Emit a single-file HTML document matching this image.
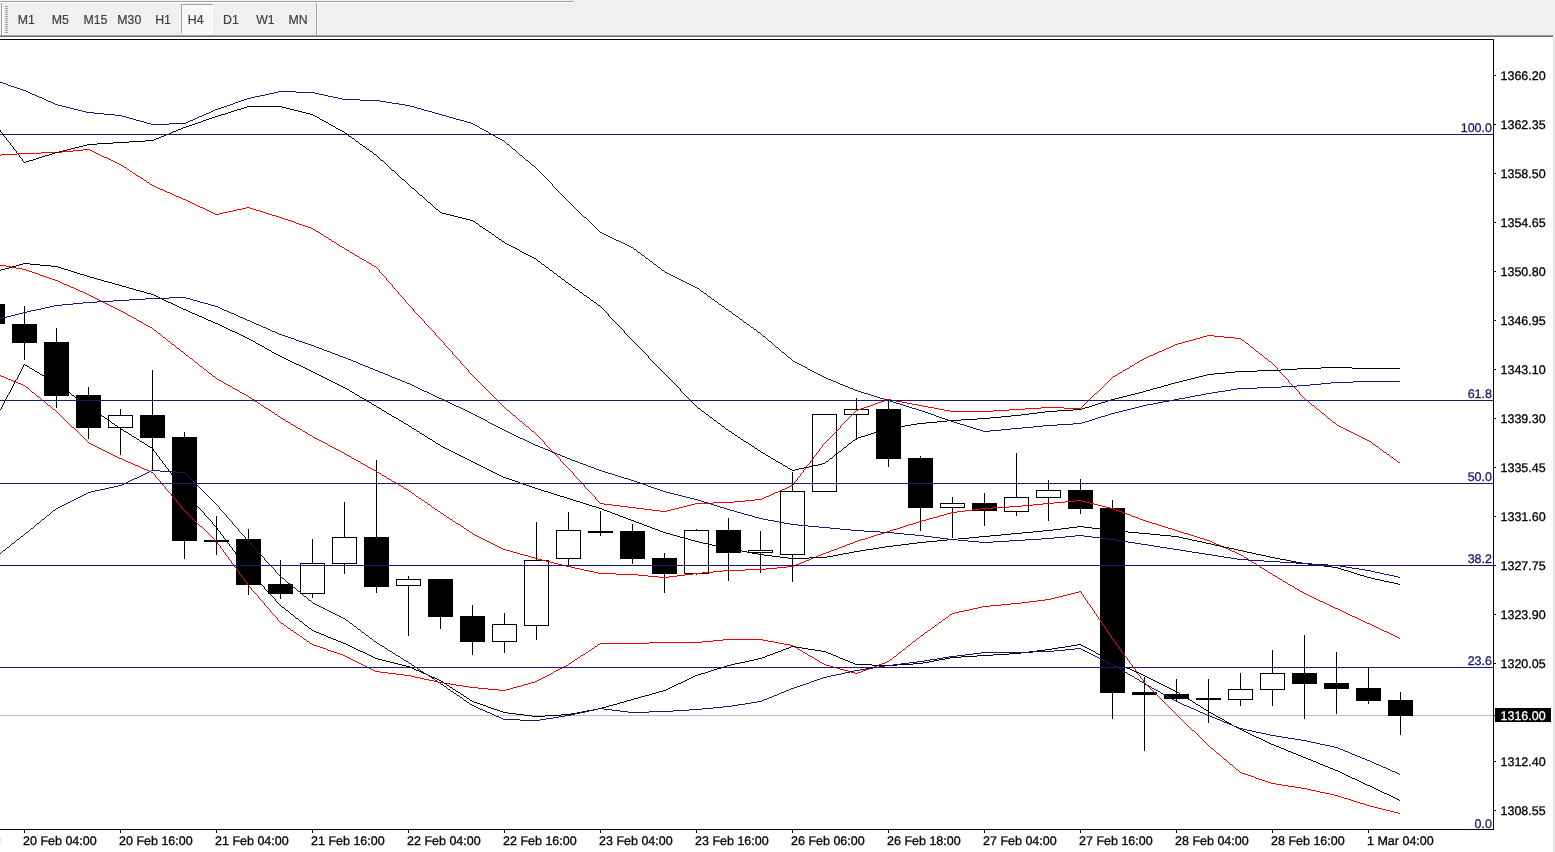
<!DOCTYPE html>
<html><head><meta charset="utf-8"><title>Chart</title>
<style>
html,body{margin:0;padding:0;background:#fff;}
body{width:1555px;height:852px;position:relative;overflow:hidden;font-family:"Liberation Sans",sans-serif;}
#tb{position:absolute;left:0;top:0;width:1555px;height:35px;background:#f0f0f0;}
#tb .l1{position:absolute;left:0;top:1px;width:574px;height:1px;background:#a0a0a0;}
#tb .l2{position:absolute;left:0;top:2px;width:575px;height:1px;background:#fff;}
#tb .v1{position:absolute;left:1px;top:3px;width:1px;height:32px;background:#a0a0a0;}
#tb .v2{position:absolute;left:2px;top:3px;width:1px;height:32px;background:#fff;}
#tb .sep{position:absolute;left:316px;top:3px;width:1px;height:32px;background:#a0a0a0;}
#tb .sep2{position:absolute;left:317px;top:3px;width:1px;height:32px;background:#fff;}
#tb i{position:absolute;left:5px;width:3px;height:1px;background:#a0a0a0;}
#tb span{position:absolute;top:13px;font-size:12.3px;line-height:15px;color:#404040;white-space:nowrap;-webkit-text-stroke:0.2px #404040}
#tb .btn{position:absolute;left:181px;top:4px;width:30px;height:28px;background:#f8f8f8;border-left:1px solid #a0a0a0;border-top:1px solid #a0a0a0;border-right:1px solid #fff;border-bottom:1px solid #fff;}
.b1{position:absolute;left:0;top:35px;width:1553px;height:1px;background:#a0a0a0;}
.b2{position:absolute;left:0;top:36px;width:1553px;height:1px;background:#696969;}
.re{position:absolute;left:1553px;top:35px;width:1px;height:817px;background:#e3e3e3;}
.re2{position:absolute;left:1554px;top:35px;width:1px;height:817px;background:#f0f0f0;}
</style></head><body>
<div id="tb"><div class="l1"></div><div class="l2"></div><div class="v1"></div><div class="v2"></div><i style="top:6px"></i><i style="top:8px"></i><i style="top:10px"></i><i style="top:12px"></i><i style="top:14px"></i><i style="top:16px"></i><i style="top:18px"></i><i style="top:20px"></i><i style="top:22px"></i><i style="top:24px"></i><i style="top:26px"></i><i style="top:28px"></i><i style="top:30px"></i><i style="top:32px"></i><div class="btn"></div><span style="left:17.8px">M1</span><span style="left:51.7px">M5</span><span style="left:83.4px">M15</span><span style="left:117.3px">M30</span><span style="left:155.2px">H1</span><span style="left:187.8px">H4</span><span style="left:223.0px">D1</span><span style="left:256.2px">W1</span><span style="left:288.5px">MN</span><div class="sep"></div><div class="sep2"></div></div>
<div class="b1"></div><div class="b2"></div><div class="re"></div><div class="re2"></div>
<svg width="1555" height="852" viewBox="0 0 1555 852" style="position:absolute;left:0;top:0" shape-rendering="crispEdges">
<defs><clipPath id="cp"><rect x="0" y="40" width="1493" height="789"/></clipPath></defs>
<g clip-path="url(#cp)">
<rect x="0" y="715" width="1493" height="1" fill="#c0c0c0"/>
<rect x="-8" y="304" width="1" height="20" fill="#000"/>
<rect x="-20" y="304" width="25" height="20" fill="#000"/>
<rect x="24" y="306" width="1" height="54" fill="#000"/>
<rect x="12" y="324" width="25" height="19" fill="#000"/>
<rect x="56" y="328" width="1" height="80" fill="#000"/>
<rect x="44" y="342" width="25" height="54" fill="#000"/>
<rect x="88" y="387" width="1" height="52" fill="#000"/>
<rect x="76" y="395" width="25" height="33" fill="#000"/>
<rect x="120" y="409" width="1" height="46" fill="#000"/>
<rect x="108.5" y="415.5" width="24" height="12" fill="#fff" stroke="#000" stroke-width="1"/>
<rect x="152" y="370" width="1" height="101" fill="#000"/>
<rect x="140" y="415" width="25" height="23" fill="#000"/>
<rect x="184" y="432" width="1" height="127" fill="#000"/>
<rect x="172" y="437" width="25" height="104" fill="#000"/>
<rect x="216" y="516" width="1" height="39" fill="#000"/>
<rect x="204" y="540" width="25" height="2" fill="#000"/>
<rect x="248" y="529" width="1" height="66" fill="#000"/>
<rect x="236" y="539" width="25" height="46" fill="#000"/>
<rect x="280" y="560" width="1" height="39" fill="#000"/>
<rect x="268" y="584" width="25" height="10" fill="#000"/>
<rect x="312" y="539" width="1" height="59" fill="#000"/>
<rect x="300.5" y="563.5" width="24" height="30" fill="#fff" stroke="#000" stroke-width="1"/>
<rect x="344" y="502" width="1" height="72" fill="#000"/>
<rect x="332.5" y="537.5" width="24" height="26" fill="#fff" stroke="#000" stroke-width="1"/>
<rect x="376" y="460" width="1" height="133" fill="#000"/>
<rect x="364" y="537" width="25" height="50" fill="#000"/>
<rect x="408" y="576" width="1" height="60" fill="#000"/>
<rect x="396.5" y="579.5" width="24" height="6" fill="#fff" stroke="#000" stroke-width="1"/>
<rect x="440" y="579" width="1" height="50" fill="#000"/>
<rect x="428" y="579" width="25" height="38" fill="#000"/>
<rect x="472" y="605" width="1" height="50" fill="#000"/>
<rect x="460" y="616" width="25" height="26" fill="#000"/>
<rect x="504" y="613" width="1" height="40" fill="#000"/>
<rect x="492.5" y="624.5" width="24" height="17" fill="#fff" stroke="#000" stroke-width="1"/>
<rect x="536" y="522" width="1" height="118" fill="#000"/>
<rect x="524.5" y="560.5" width="24" height="65" fill="#fff" stroke="#000" stroke-width="1"/>
<rect x="568" y="512" width="1" height="54" fill="#000"/>
<rect x="556.5" y="530.5" width="24" height="28" fill="#fff" stroke="#000" stroke-width="1"/>
<rect x="600" y="511" width="1" height="25" fill="#000"/>
<rect x="588" y="531" width="25" height="2" fill="#000"/>
<rect x="632" y="524" width="1" height="40" fill="#000"/>
<rect x="620" y="531" width="25" height="28" fill="#000"/>
<rect x="664" y="553" width="1" height="40" fill="#000"/>
<rect x="652" y="558" width="25" height="16" fill="#000"/>
<rect x="696" y="529" width="1" height="46" fill="#000"/>
<rect x="684.5" y="530.5" width="24" height="43" fill="#fff" stroke="#000" stroke-width="1"/>
<rect x="728" y="518" width="1" height="63" fill="#000"/>
<rect x="716" y="530" width="25" height="23" fill="#000"/>
<rect x="760" y="531" width="1" height="42" fill="#000"/>
<rect x="748.5" y="550.5" width="24" height="2" fill="#fff" stroke="#000" stroke-width="1"/>
<rect x="792" y="472" width="1" height="110" fill="#000"/>
<rect x="780.5" y="491.5" width="24" height="63" fill="#fff" stroke="#000" stroke-width="1"/>
<rect x="824" y="414" width="1" height="78" fill="#000"/>
<rect x="812.5" y="414.5" width="24" height="77" fill="#fff" stroke="#000" stroke-width="1"/>
<rect x="856" y="398" width="1" height="42" fill="#000"/>
<rect x="844.5" y="409.5" width="24" height="5" fill="#fff" stroke="#000" stroke-width="1"/>
<rect x="888" y="399" width="1" height="68" fill="#000"/>
<rect x="876" y="409" width="25" height="50" fill="#000"/>
<rect x="920" y="456" width="1" height="75" fill="#000"/>
<rect x="908" y="458" width="25" height="50" fill="#000"/>
<rect x="952" y="497" width="1" height="41" fill="#000"/>
<rect x="940.5" y="503.5" width="24" height="4" fill="#fff" stroke="#000" stroke-width="1"/>
<rect x="984" y="493" width="1" height="33" fill="#000"/>
<rect x="972" y="503" width="25" height="8" fill="#000"/>
<rect x="1016" y="453" width="1" height="63" fill="#000"/>
<rect x="1004.5" y="497.5" width="24" height="14" fill="#fff" stroke="#000" stroke-width="1"/>
<rect x="1048" y="480" width="1" height="41" fill="#000"/>
<rect x="1036.5" y="490.5" width="24" height="7" fill="#fff" stroke="#000" stroke-width="1"/>
<rect x="1080" y="479" width="1" height="35" fill="#000"/>
<rect x="1068" y="490" width="25" height="19" fill="#000"/>
<rect x="1112" y="500" width="1" height="219" fill="#000"/>
<rect x="1100" y="508" width="25" height="185" fill="#000"/>
<rect x="1144" y="677" width="1" height="74" fill="#000"/>
<rect x="1132" y="692" width="25" height="3" fill="#000"/>
<rect x="1176" y="679" width="1" height="23" fill="#000"/>
<rect x="1164" y="694" width="25" height="5" fill="#000"/>
<rect x="1208" y="679" width="1" height="44" fill="#000"/>
<rect x="1196" y="698" width="25" height="2" fill="#000"/>
<rect x="1240" y="673" width="1" height="33" fill="#000"/>
<rect x="1228.5" y="689.5" width="24" height="10" fill="#fff" stroke="#000" stroke-width="1"/>
<rect x="1272" y="650" width="1" height="56" fill="#000"/>
<rect x="1260.5" y="673.5" width="24" height="16" fill="#fff" stroke="#000" stroke-width="1"/>
<rect x="1304" y="635" width="1" height="84" fill="#000"/>
<rect x="1292" y="673" width="25" height="11" fill="#000"/>
<rect x="1336" y="652" width="1" height="62" fill="#000"/>
<rect x="1324" y="683" width="25" height="6" fill="#000"/>
<rect x="1368" y="667" width="1" height="37" fill="#000"/>
<rect x="1356" y="688" width="25" height="13" fill="#000"/>
<rect x="1400" y="692" width="1" height="43" fill="#000"/>
<rect x="1388" y="700" width="25" height="16" fill="#000"/>
<path d="M0 155h1m0-1h16m0-1h24m0-1h21m0-1h11m0-1h10m0-1h7m0 1h2m0 1h2m0 1h2m0 1h2m0 1h2m0 1h2m0 1h2m0 1h3m0 1h2m0 1h2m0 1h2m0 1h2m0 1h2m0 1h2m0 1h2m0 1h2m0 1h1m0 1h2m0 1h1m0 1h2m0 1h1m0 1h2m0 1h1m0 1h2m0 1h1m0 1h2m0 1h2m0 1h1m0 1h2m0 1h1m0 1h2m0 1h1m0 1h2m0 1h1m0 1h2m0 1h2m0 1h2m0 1h2m0 1h2m0 1h3m0 1h2m0 1h2m0 1h3m0 1h2m0 1h2m0 1h2m0 1h3m0 1h2m0 1h2m0 1h3m0 1h2m0 1h2m0 1h2m0 1h2m0 1h2m0 1h2m0 1h2m0 1h3m0 1h2m0 1h2m0 1h2m0 1h2m0 1h2m0 1h2m0 1h4m0-1h4m0-1h5m0-1h5m0-1h4m0-1h5m0-1h4m0-1h4m0 1h3m0 1h3m0 1h4m0 1h3m0 1h3m0 1h3m0 1h3m0 1h4m0 1h3m0 1h3m0 1h3m0 1h3m0 1h3m0 1h3m0 1h2m0 1h3m0 1h3m0 1h3m0 1h3m0 1h3m0 1h2m0 1h2m0 1h1m0 1h2m0 1h2m0 1h1m0 1h2m0 1h1m0 1h2m0 1h2m0 1h1m0 1h2m0 1h1m0 1h2m0 1h2m0 1h1m0 1h2m0 1h1m0 1h2m0 1h2m0 1h1m0 1h2m0 1h2m0 1h1m0 1h2m0 1h2m0 1h1m0 1h2m0 1h2m0 1h1m0 1h2m0 1h2m0 1h2m0 1h1m0 1h2m0 1h2m0 1h1m0 1h2m0 1h2m0 1h1m0 1h1m0 1h1m0 1h1m-1 1h1m0 1h1m0 1h1m0 1h1m0 1h1m0 1h1m0 1h1m0 1h1m-1 1h1m0 1h1m0 1h1m0 1h1m0 1h1m0 1h1m0 1h1m-1 1h1m0 1h1m0 1h1m0 1h1m0 1h1m0 1h1m0 1h1m-1 1h1m0 1h1m0 1h1m0 1h1m0 1h1m0 1h1m0 1h1m0 1h1m-1 1h1m0 1h1m0 1h1m0 1h1m0 1h1m0 1h1m0 1h1m0 1h1m0 1h1m-1 1h1m0 1h1m0 1h1m0 1h1m0 1h1m0 1h1m0 1h1m0 1h1m0 1h1m0 1h1m0 1h1m0 1h1m-1 1h1m0 1h1m0 1h1m0 1h1m0 1h1m0 1h1m0 1h1m0 1h1m0 1h1m0 1h1m0 1h1m0 1h1m-1 1h1m0 1h1m0 1h1m0 1h1m0 1h1m0 1h1m0 1h1m0 1h1m0 1h1m0 1h1m-1 1h1m0 1h1m0 1h1m0 1h1m0 1h1m0 1h1m0 1h1m0 1h1m0 1h1m-1 1h1m0 1h1m0 1h1m0 1h1m0 1h1m0 1h1m0 1h1m0 1h1m0 1h1m-1 1h1m0 1h1m0 1h1m0 1h1m0 1h1m0 1h1m0 1h1m0 1h1m0 1h1m-1 1h1m0 1h1m0 1h1m0 1h1m0 1h1m0 1h1m0 1h1m0 1h1m0 1h1m0 1h1m0 1h1m0 1h1m0 1h1m0 1h1m0 1h1m0 1h1m0 1h1m0 1h1m0 1h1m0 1h1m0 1h1m0 1h1m0 1h1m0 1h1m0 1h1m0 1h1m0 1h1m0 1h1m0 1h1m0 1h1m0 1h1m0 1h1m0 1h1m0 1h1m0 1h1m0 1h1m0 1h1m0 1h1m0 1h1m0 1h2m0 1h1m0 1h1m0 1h1m0 1h1m0 1h2m0 1h1m0 1h1m0 1h1m0 1h1m0 1h1m0 1h2m0 1h1m0 1h1m0 1h1m0 1h1m0 1h2m0 1h1m0 1h1m0 1h1m0 1h1m0 1h2m0 1h1m0 1h1m0 1h1m0 1h1m0 1h1m0 1h1m0 1h1m0 1h1m0 1h1m0 1h1m0 1h1m-1 1h1m0 1h1m0 1h1m0 1h1m0 1h1m0 1h1m0 1h1m0 1h1m0 1h1m0 1h1m0 1h1m0 1h1m0 1h1m0 1h1m0 1h1m0 1h1m0 1h1m-1 1h1m0 1h1m0 1h1m0 1h1m0 1h1m0 1h1m0 1h1m0 1h1m0 1h1m0 1h1m0 1h1m0 1h1m0 1h1m0 1h1m-1 1h1m0 1h1m0 1h1m0 1h1m0 1h1m0 1h1m0 1h1m0 1h1m0 1h1m0 1h1m0 1h1m0 1h1m-1 1h1m0 1h1m0 1h1m0 1h1m0 1h1m0 1h1m0 1h1m0 1h1m0 1h1m0 1h1m0 1h1m0 1h1m-1 1h1m0 1h1m0 1h1m0 1h1m0 1h1m0 1h4m0 1h8m0 1h8m0 1h8m0 1h8m0 1h8m0 1h8m0 1h8m0 1h7m0-1h4m0-1h4m0-1h4m0-1h4m0-1h4m0-1h4m0-1h4m0-1h18m0-1h21m0-1h11m0-1h10m0-1h7m0-1h2m0-1h2m0-1h3m0-1h2m0-1h2m0-1h2m0-1h3m0-1h2m0-1h2m0-1h3m0-1h2m0-1h2m0-1h2m0-1h2m0-1h1m0-1h1m-1-1h1m0-1h1m0-1h1m0-1h1m-1-1h1m0-1h1m0-1h1m0-1h1m-1-1h1m0-1h1m0-1h1m0-1h1m-1-1h1m0-1h1m0-1h1m0-1h1m-1-1h1m0-1h1m0-1h1m0-1h1m0-1h1m-1-1h1m0-1h1m0-1h1m0-1h1m-1-1h1m0-1h1m0-1h1m0-1h1m-1-1h1m0-1h1m0-1h1m0-1h1m-1-1h1m0-1h1m0-1h1m0-1h1m-1-1h1m0-1h1m0-1h1m0-1h1m0-1h1m0-1h1m0-1h1m0-1h1m0-1h1m0-1h1m0-1h1m0-1h1m0-1h1m0-1h1m0-1h1m0-1h1m0-1h1m0-1h1m0-1h1m-1-1h1m0-1h1m0-1h1m0-1h1m0-1h1m0-1h1m0-1h1m0-1h1m0-1h1m0-1h1m0-1h1m0-1h1m0-1h1m0-1h1m0-1h1m0-1h1m0-1h2m0-1h3m0-1h3m0-1h3m0-1h3m0-1h3m0-1h2m0-1h3m0-1h3m0-1h3m0-1h3m0-1h4m0 1h5m0 1h6m0 1h5m0 1h5m0 1h6m0 1h5m0 1h5m0 1h6m0 1h5m0 1h5m0 1h6m0 1h43m0-1h16m0-1h16m0-1h16m0-1h23m0 1h17m0-1h1m0-1h1m0-1h1m0-1h1m0-1h1m0-1h1m0-1h1m0-1h1m0-1h1m0-1h1m0-1h1m0-1h1m0-1h1m0-1h1m0-1h2m0-1h1m0-1h1m0-1h1m0-1h1m0-1h1m0-1h1m0-1h1m0-1h1m0-1h1m0-1h1m0-1h1m0-1h1m0-1h1m0-1h1m0-1h1m0-1h1m0-1h2m0-1h2m0-1h1m0-1h2m0-1h2m0-1h1m0-1h2m0-1h2m0-1h2m0-1h1m0-1h2m0-1h2m0-1h1m0-1h2m0-1h2m0-1h1m0-1h2m0-1h2m0-1h2m0-1h2m0-1h2m0-1h3m0-1h2m0-1h2m0-1h2m0-1h3m0-1h2m0-1h2m0-1h3m0-1h2m0-1h2m0-1h2m0-1h3m0-1h4m0-1h3m0-1h4m0-1h4m0-1h3m0-1h4m0-1h3m0-1h4m0-1h7m0 1h10m0 1h11m0 1h6m0 1h1m0 1h2m0 1h1m0 1h1m0 1h2m0 1h1m0 1h1m0 1h1m0 1h2m0 1h1m0 1h1m0 1h1m0 1h2m0 1h1m0 1h1m0 1h2m0 1h1m0 1h1m0 1h1m0 1h2m0 1h1m0 1h1m0 1h2m0 1h1m0 1h1m0 1h1m0 1h1m0 1h1m0 1h1m0 1h1m-1 1h1m0 1h1m0 1h1m0 1h1m0 1h1m0 1h1m0 1h1m0 1h1m0 1h1m0 1h1m0 1h1m0 1h1m-1 1h1m0 1h1m0 1h1m0 1h1m0 1h1m0 1h1m0 1h1m0 1h1m0 1h1m0 1h1m0 1h1m0 1h1m-1 1h1m0 1h1m0 1h1m0 1h1m0 1h1m0 1h1m0 1h1m0 1h2m0 1h1m0 1h1m0 1h1m0 1h1m0 1h2m0 1h1m0 1h1m0 1h1m0 1h2m0 1h1m0 1h1m0 1h1m0 1h2m0 1h1m0 1h1m0 1h1m0 1h1m0 1h2m0 1h1m0 1h1m0 1h1m0 1h2m0 1h1m0 1h1m0 1h2m0 1h2m0 1h2m0 1h2m0 1h2m0 1h2m0 1h2m0 1h2m0 1h2m0 1h2m0 1h2m0 1h2m0 1h2m0 1h2m0 1h2m0 1h2m0 1h2m0 1h1m0 1h1m0 1h2m0 1h1m0 1h2m0 1h1m0 1h1m0 1h2m0 1h1m0 1h1m0 1h2m0 1h1m0 1h2m0 1h1m0 1h1m0 1h2m0 1h1m0 1h2m0 1h1m0 1h1m0 1h2" fill="none" stroke="#f00" stroke-width="1" transform="translate(0,.5)"/>
<path d="M0 265h6m0 1h5m0 1h5m0 1h6m0 1h4m0 1h3m0 1h3m0 1h3m0 1h3m0 1h2m0 1h3m0 1h3m0 1h3m0 1h3m0 1h3m0 1h3m0 1h2m0 1h2m0 1h2m0 1h3m0 1h2m0 1h2m0 1h3m0 1h2m0 1h2m0 1h2m0 1h3m0 1h2m0 1h2m0 1h2m0 1h2m0 1h2m0 1h2m0 1h2m0 1h2m0 1h2m0 1h2m0 1h2m0 1h2m0 1h2m0 1h2m0 1h2m0 1h2m0 1h2m0 1h2m0 1h2m0 1h2m0 1h2m0 1h2m0 1h1m0 1h2m0 1h2m0 1h2m0 1h2m0 1h1m0 1h2m0 1h2m0 1h2m0 1h1m0 1h2m0 1h2m0 1h2m0 1h2m0 1h1m0 1h1m0 1h2m0 1h1m0 1h1m0 1h2m0 1h1m0 1h1m0 1h1m0 1h2m0 1h1m0 1h1m0 1h1m0 1h2m0 1h1m0 1h1m0 1h2m0 1h1m0 1h1m0 1h1m0 1h2m0 1h1m0 1h1m0 1h2m0 1h1m0 1h1m0 1h1m0 1h2m0 1h1m0 1h1m0 1h2m0 1h1m0 1h1m0 1h1m0 1h2m0 1h1m0 1h1m0 1h1m0 1h2m0 1h1m0 1h1m0 1h2m0 1h1m0 1h1m0 1h1m0 1h2m0 1h1m0 1h1m0 1h2m0 1h1m0 1h1m0 1h2m0 1h2m0 1h2m0 1h1m0 1h2m0 1h2m0 1h2m0 1h2m0 1h1m0 1h2m0 1h2m0 1h2m0 1h1m0 1h2m0 1h2m0 1h2m0 1h2m0 1h1m0 1h2m0 1h1m0 1h2m0 1h1m0 1h2m0 1h1m0 1h2m0 1h1m0 1h2m0 1h1m0 1h2m0 1h2m0 1h1m0 1h2m0 1h1m0 1h2m0 1h1m0 1h2m0 1h1m0 1h2m0 1h1m0 1h2m0 1h2m0 1h1m0 1h2m0 1h2m0 1h1m0 1h2m0 1h2m0 1h1m0 1h2m0 1h2m0 1h2m0 1h1m0 1h2m0 1h2m0 1h1m0 1h2m0 1h2m0 1h1m0 1h2m0 1h2m0 1h2m0 1h2m0 1h2m0 1h2m0 1h2m0 1h1m0 1h2m0 1h2m0 1h2m0 1h2m0 1h2m0 1h2m0 1h2m0 1h2m0 1h1m0 1h2m0 1h2m0 1h2m0 1h1m0 1h2m0 1h2m0 1h2m0 1h2m0 1h1m0 1h2m0 1h2m0 1h2m0 1h1m0 1h2m0 1h2m0 1h2m0 1h2m0 1h1m0 1h2m0 1h2m0 1h1m0 1h2m0 1h2m0 1h1m0 1h2m0 1h2m0 1h1m0 1h2m0 1h2m0 1h2m0 1h1m0 1h2m0 1h2m0 1h1m0 1h2m0 1h2m0 1h1m0 1h2m0 1h1m0 1h2m0 1h1m0 1h1m0 1h2m0 1h1m0 1h2m0 1h1m0 1h2m0 1h1m0 1h2m0 1h1m0 1h2m0 1h1m0 1h1m0 1h2m0 1h1m0 1h2m0 1h1m0 1h2m0 1h1m0 1h2m0 1h1m0 1h2m0 1h1m0 1h2m0 1h1m0 1h2m0 1h1m0 1h2m0 1h1m0 1h2m0 1h2m0 1h1m0 1h2m0 1h1m0 1h2m0 1h1m0 1h2m0 1h1m0 1h2m0 1h1m0 1h2m0 1h2m0 1h2m0 1h2m0 1h2m0 1h2m0 1h2m0 1h2m0 1h2m0 1h2m0 1h2m0 1h2m0 1h2m0 1h2m0 1h2m0 1h3m0 1h4m0 1h3m0 1h4m0 1h3m0 1h4m0 1h4m0 1h3m0 1h4m0 1h3m0 1h4m0 1h4m0 1h4m0 1h4m0 1h4m0 1h4m0 1h4m0 1h5m0 1h4m0 1h5m0 1h4m0 1h5m0 1h5m0 1h4m0 1h18m0 1h22m0 1h10m0 1h11m0 1h10m0-1h8m0-1h8m0-1h8m0-1h9m0-1h11m0-1h10m0-1h22m0-1h21m0-1h11m0-1h10m0-1h7m0-1h2m0-1h3m0-1h2m0-1h3m0-1h2m0-1h3m0-1h2m0-1h2m0-1h3m0-1h2m0-1h3m0-1h2m0-1h3m0-1h3m0-1h2m0-1h3m0-1h3m0-1h2m0-1h3m0-1h3m0-1h2m0-1h3m0-1h3m0-1h2m0-1h3m0-1h3m0-1h4m0-1h3m0-1h3m0-1h3m0-1h3m0-1h4m0-1h3m0-1h3m0-1h3m0-1h3m0-1h4m0-1h3m0-1h3m0-1h3m0-1h3m0-1h4m0-1h3m0-1h3m0-1h3m0-1h4m0-1h3m0-1h4m0-1h4m0-1h3m0-1h4m0-1h3m0-1h4m0-1h6m0-1h8m0-1h8m0-1h8m0-1h12m0-1h16m0-1h13m0-1h11m0-1h10m0-1h11m0-1h11m0-1h10m0-1h7m0 1h4m0 1h4m0 1h4m0 1h4m0 1h4m0 1h4m0 1h4m0 1h4m0 1h2m0 1h3m0 1h3m0 1h2m0 1h3m0 1h3m0 1h2m0 1h3m0 1h3m0 1h2m0 1h3m0 1h3m0 1h3m0 1h3m0 1h4m0 1h3m0 1h3m0 1h3m0 1h3m0 1h4m0 1h3m0 1h3m0 1h3m0 1h3m0 1h4m0 1h3m0 1h3m0 1h3m0 1h3m0 1h4m0 1h3m0 1h3m0 1h2m0 1h2m0 1h2m0 1h3m0 1h2m0 1h2m0 1h3m0 1h2m0 1h2m0 1h2m0 1h3m0 1h2m0 1h2m0 1h2m0 1h2m0 1h1m0 1h2m0 1h2m0 1h1m0 1h2m0 1h1m0 1h2m0 1h2m0 1h1m0 1h2m0 1h1m0 1h2m0 1h2m0 1h1m0 1h2m0 1h1m0 1h2m0 1h2m0 1h1m0 1h2m0 1h2m0 1h1m0 1h2m0 1h2m0 1h1m0 1h2m0 1h2m0 1h1m0 1h2m0 1h2m0 1h2m0 1h1m0 1h2m0 1h2m0 1h1m0 1h2m0 1h2m0 1h2m0 1h2m0 1h2m0 1h2m0 1h2m0 1h2m0 1h2m0 1h2m0 1h3m0 1h2m0 1h2m0 1h2m0 1h2m0 1h2m0 1h2m0 1h3m0 1h2m0 1h2m0 1h2m0 1h2m0 1h2m0 1h2m0 1h2m0 1h3m0 1h2m0 1h2m0 1h2m0 1h2m0 1h2m0 1h2m0 1h3m0 1h2m0 1h2m0 1h2m0 1h2m0 1h2m0 1h2m0 1h2m0 1h3m0 1h2m0 1h2m0 1h2m0 1h2m0 1h2m0 1h2m0 1h1" fill="none" stroke="#f00" stroke-width="1" transform="translate(0,.5)"/>
<path d="M0 375h1m0 1h3m0 1h2m0 1h2m0 1h3m0 1h2m0 1h3m0 1h2m0 1h3m0 1h2m0 1h2m0 1h1m0 1h2m0 1h1m0 1h1m0 1h1m0 1h1m0 1h2m0 1h1m0 1h1m0 1h1m0 1h2m0 1h1m0 1h1m0 1h1m0 1h2m0 1h1m0 1h1m0 1h1m0 1h1m0 1h2m0 1h1m0 1h1m0 1h1m0 1h2m0 1h1m0 1h1m0 1h1m0 1h1m0 1h1m0 1h1m0 1h1m0 1h1m0 1h1m0 1h1m0 1h1m0 1h1m0 1h1m0 1h1m0 1h1m0 1h1m0 1h1m0 1h2m0 1h1m0 1h1m0 1h1m0 1h1m0 1h1m0 1h1m0 1h1m0 1h1m0 1h1m0 1h1m0 1h1m0 1h1m0 1h1m0 1h1m0 1h1m0 1h2m0 1h2m0 1h2m0 1h2m0 1h2m0 1h2m0 1h2m0 1h2m0 1h2m0 1h2m0 1h2m0 1h2m0 1h2m0 1h2m0 1h2m0 1h3m0 1h2m0 1h2m0 1h2m0 1h3m0 1h2m0 1h2m0 1h3m0 1h2m0 1h2m0 1h2m0 1h3m0 1h2m0 1h2m0 1h2m0 1h1m0 1h1m0 1h1m-1 1h1m0 1h1m0 1h1m0 1h1m0 1h1m0 1h1m-1 1h1m0 1h1m0 1h1m0 1h1m0 1h1m0 1h1m-1 1h1m0 1h1m0 1h1m0 1h1m0 1h1m0 1h1m0 1h1m-1 1h1m0 1h1m0 1h1m0 1h1m0 1h1m0 1h1m-1 1h1m0 1h1m0 1h1m0 1h1m0 1h1m0 1h1m-1 1h1m0 1h1m0 1h1m0 1h1m0 1h1m0 1h1m0 1h1m0 1h1m0 1h1m0 1h1m0 1h1m0 1h1m0 1h1m0 1h1m0 1h1m0 1h1m0 1h1m0 1h1m0 1h1m0 1h2m0 1h1m0 1h1m0 1h1m0 1h1m0 1h1m0 1h1m0 1h1m0 1h1m0 1h1m0 1h1m0 1h1m0 1h1m0 1h1m0 1h1m0 1h1m0 1h1m-1 1h1m0 1h1m0 1h1m0 1h1m-1 1h1m0 1h1m0 1h1m0 1h1m-1 1h1m0 1h1m0 1h1m-1 1h1m0 1h1m0 1h1m0 1h1m-1 1h1m0 1h1m0 1h1m0 1h1m-1 1h1m0 1h1m0 1h1m-1 1h1m0 1h1m0 1h1m0 1h1m-1 1h1m0 1h1m0 1h1m0 1h1m-1 1h1m0 1h1m0 1h1m-1 1h1m0 1h1m0 1h1m0 1h1m-1 1h1m0 1h1m0 1h1m0 1h1m-1 1h1m0 1h1m0 1h1m0 1h1m0 1h1m-1 1h1m0 1h1m0 1h1m0 1h1m0 1h1m0 1h1m0 1h1m0 1h1m-1 1h1m0 1h1m0 1h1m0 1h1m0 1h1m0 1h1m0 1h1m-1 1h1m0 1h1m0 1h1m0 1h1m0 1h1m0 1h1m0 1h1m-1 1h1m0 1h1m0 1h1m0 1h1m0 1h1m0 1h1m0 1h1m0 1h1m-1 1h1m0 1h1m0 1h1m0 1h1m0 1h2m0 1h1m0 1h2m0 1h1m0 1h1m0 1h2m0 1h1m0 1h2m0 1h1m0 1h2m0 1h1m0 1h2m0 1h1m0 1h2m0 1h1m0 1h1m0 1h2m0 1h1m0 1h2m0 1h1m0 1h2m0 1h2m0 1h3m0 1h3m0 1h3m0 1h3m0 1h2m0 1h3m0 1h3m0 1h3m0 1h3m0 1h3m0 1h2m0 1h2m0 1h2m0 1h2m0 1h2m0 1h2m0 1h2m0 1h2m0 1h2m0 1h2m0 1h2m0 1h2m0 1h2m0 1h2m0 1h2m0 1h2m0 1h5m0 1h8m0 1h8m0 1h8m0 1h7m0 1h4m0 1h5m0 1h4m0 1h5m0 1h5m0 1h4m0 1h6m0 1h6m0 1h6m0 1h7m0 1h6m0 1h9m0 1h10m0 1h11m0 1h7m0-1h4m0-1h3m0-1h4m0-1h4m0-1h3m0-1h4m0-1h3m0-1h4m0-1h2m0-1h2m0-1h2m0-1h2m0-1h2m0-1h2m0-1h2m0-1h2m0-1h2m0-1h1m0-1h2m0-1h2m0-1h2m0-1h2m0-1h2m0-1h2m0-1h2m0-1h1m0-1h2m0-1h1m0-1h2m0-1h1m0-1h2m0-1h1m0-1h2m0-1h1m0-1h2m0-1h2m0-1h1m0-1h2m0-1h1m0-1h2m0-1h1m0-1h2m0-1h1m0-1h2m0-1h1m0-1h2m0-1h49m0-1h53m0-1h11m0-1h10m0-1h40m0 1h5m0 1h6m0 1h5m0 1h5m0 1h6m0 1h3m0 1h2m0 1h2m0 1h1m0 1h2m0 1h2m0 1h1m0 1h2m0 1h2m0 1h1m0 1h2m0 1h2m0 1h2m0 1h1m0 1h2m0 1h2m0 1h1m0 1h2m0 1h2m0 1h2m0 1h4m0 1h3m0 1h4m0 1h3m0 1h4m0 1h4m0 1h3m0 1h4m0 1h3m0-1h3m0-1h2m0-1h3m0-1h3m0-1h2m0-1h3m0-1h3m0-1h2m0-1h3m0-1h3m0-1h2m0-1h2m0-1h1m0-1h2m0-1h1m0-1h1m0-1h2m0-1h1m0-1h1m0-1h1m0-1h2m0-1h1m0-1h1m0-1h2m0-1h1m0-1h1m0-1h1m0-1h2m0-1h1m0-1h1m0-1h1m0-1h2m0-1h1m0-1h1m0-1h2m0-1h1m0-1h1m0-1h2m0-1h1m0-1h1m0-1h2m0-1h1m0-1h2m0-1h1m0-1h1m0-1h2m0-1h1m0-1h2m0-1h1m0-1h1m0-1h2m0-1h1m0-1h1m0-1h2m0-1h1m0-1h2m0-1h1m0-1h1m0-1h2m0-1h3m0-1h4m0-1h5m0-1h5m0-1h4m0-1h5m0-1h4m0-1h8m0-1h11m0-1h10m0-1h10m0-1h8m0-1h8m0-1h8m0-1h6m0-1h4m0-1h4m0-1h4m0-1h4m0-1h4m0-1h4m0-1h4m0-1h2m0 1h1m-1 1h1m0 1h1m0 1h1m-1 1h1m0 1h1m0 1h1m-1 1h1m0 1h1m0 1h1m-1 1h1m0 1h1m0 1h1m0 1h1m-1 1h1m0 1h1m0 1h1m-1 1h1m0 1h1m0 1h1m-1 1h1m0 1h1m0 1h1m-1 1h1m0 1h1m0 1h1m-1 1h1m0 1h1m0 1h1m-1 1h1m0 1h1m0 1h1m-1 1h1m0 1h1m0 1h1m0 1h1m-1 1h1m0 1h1m0 1h1m-1 1h1m0 1h1m0 1h1m-1 1h1m0 1h1m0 1h1m-1 1h1m0 1h1m0 1h1m-1 1h1m0 1h1m0 1h1m0 1h1m-1 1h1m0 1h1m0 1h1m0 1h1m-1 1h1m0 1h1m0 1h1m-1 1h1m0 1h1m0 1h1m0 1h1m-1 1h1m0 1h1m0 1h1m0 1h1m-1 1h1m0 1h1m0 1h1m-1 1h1m0 1h1m0 1h1m0 1h1m-1 1h1m0 1h1m0 1h1m0 1h1m-1 1h1m0 1h1m0 1h1m-1 1h1m0 1h1m0 1h1m0 1h1m-1 1h1m0 1h1m0 1h1m0 1h1m-1 1h1m0 1h1m0 1h1m0 1h1m0 1h1m0 1h1m0 1h1m0 1h1m0 1h1m0 1h1m0 1h1m0 1h1m0 1h1m0 1h1m0 1h1m0 1h1m0 1h1m0 1h1m0 1h1m0 1h1m0 1h1m0 1h1m0 1h1m0 1h1m0 1h1m0 1h1m0 1h1m0 1h1m0 1h1m0 1h1m0 1h1m0 1h1m0 1h1m0 1h1m0 1h1m0 1h1m0 1h1m0 1h1m0 1h1m0 1h1m0 1h1m0 1h1m0 1h1m0 1h1m0 1h1m0 1h1m0 1h1m0 1h1m0 1h1m0 1h2m0 1h1m0 1h1m0 1h1m0 1h1m0 1h1m0 1h1m0 1h1m0 1h1m0 1h1m0 1h1m0 1h1m0 1h1m0 1h1m0 1h1m0 1h1m0 1h1m0 1h1m0 1h2m0 1h1m0 1h1m0 1h1m0 1h1m0 1h2m0 1h1m0 1h1m0 1h1m0 1h1m0 1h1m0 1h2m0 1h1m0 1h1m0 1h1m0 1h1m0 1h2m0 1h1m0 1h1m0 1h1m0 1h1m0 1h2m0 1h1m0 1h1m0 1h2m0 1h3m0 1h3m0 1h3m0 1h3m0 1h2m0 1h3m0 1h3m0 1h3m0 1h3m0 1h3m0 1h5m0 1h6m0 1h6m0 1h7m0 1h6m0 1h6m0 1h4m0 1h5m0 1h4m0 1h5m0 1h5m0 1h4m0 1h4m0 1h3m0 1h3m0 1h4m0 1h3m0 1h3m0 1h3m0 1h3m0 1h4m0 1h3m0 1h3m0 1h4m0 1h4m0 1h4m0 1h4m0 1h4m0 1h4m0 1h4m0 1h2" fill="none" stroke="#f00" stroke-width="1" transform="translate(0,.5)"/>
<path d="M0 130h1m-1 1h1m0 1h1m0 1h1m0 1h1m-1 1h1m0 1h1m0 1h1m0 1h1m-1 1h1m0 1h1m0 1h1m0 1h1m0 1h1m-1 1h1m0 1h1m0 1h1m0 1h1m-1 1h1m0 1h1m0 1h1m0 1h1m-1 1h1m0 1h1m0 1h1m0 1h1m-1 1h1m0 1h1m0 1h1m0 1h1m-1 1h1m0 1h1m0 1h2m0-1h3m0-1h4m0-1h3m0-1h3m0-1h3m0-1h3m0-1h4m0-1h3m0-1h3m0-1h4m0-1h4m0-1h4m0-1h4m0-1h4m0-1h4m0-1h4m0-1h4m0-1h10m0-1h16m0-1h16m0-1h16m0-1h9m0-1h2m0-1h3m0-1h2m0-1h3m0-1h2m0-1h3m0-1h2m0-1h2m0-1h3m0-1h2m0-1h3m0-1h2m0-1h3m0-1h3m0-1h3m0-1h3m0-1h3m0-1h3m0-1h2m0-1h3m0-1h3m0-1h3m0-1h3m0-1h3m0-1h3m0-1h4m0-1h3m0-1h3m0-1h3m0-1h3m0-1h4m0-1h3m0-1h3m0-1h35m0 1h4m0 1h4m0 1h4m0 1h4m0 1h4m0 1h4m0 1h4m0 1h3m0 1h2m0 1h2m0 1h2m0 1h1m0 1h2m0 1h2m0 1h2m0 1h2m0 1h1m0 1h2m0 1h2m0 1h2m0 1h1m0 1h2m0 1h2m0 1h2m0 1h2m0 1h1m0 1h2m0 1h1m0 1h1m0 1h2m0 1h1m0 1h2m0 1h1m0 1h1m0 1h2m0 1h1m0 1h1m0 1h2m0 1h1m0 1h2m0 1h1m0 1h1m0 1h2m0 1h1m0 1h2m0 1h1m0 1h1m0 1h2m0 1h1m0 1h1m0 1h1m0 1h1m0 1h1m0 1h2m0 1h1m0 1h1m0 1h1m0 1h1m0 1h1m0 1h1m0 1h1m0 1h1m0 1h1m0 1h2m0 1h1m0 1h1m0 1h1m0 1h1m0 1h1m0 1h1m0 1h1m0 1h1m0 1h2m0 1h1m0 1h1m0 1h1m0 1h1m0 1h1m0 1h1m0 1h1m0 1h1m0 1h2m0 1h1m0 1h1m0 1h1m0 1h1m0 1h1m0 1h1m0 1h2m0 1h1m0 1h1m0 1h1m0 1h1m0 1h1m0 1h1m0 1h2m0 1h1m0 1h1m0 1h1m0 1h1m0 1h1m0 1h1m0 1h2m0 1h1m0 1h1m0 1h2m0 1h4m0 1h4m0 1h4m0 1h4m0 1h4m0 1h4m0 1h4m0 1h3m0 1h2m0 1h1m0 1h2m0 1h1m0 1h1m0 1h2m0 1h1m0 1h2m0 1h1m0 1h2m0 1h1m0 1h2m0 1h1m0 1h2m0 1h1m0 1h1m0 1h2m0 1h1m0 1h2m0 1h1m0 1h2m0 1h1m0 1h2m0 1h2m0 1h2m0 1h2m0 1h2m0 1h2m0 1h2m0 1h1m0 1h2m0 1h2m0 1h2m0 1h2m0 1h2m0 1h2m0 1h2m0 1h2m0 1h1m0 1h1m0 1h2m0 1h1m0 1h1m0 1h2m0 1h1m0 1h1m0 1h2m0 1h1m0 1h1m0 1h2m0 1h1m0 1h1m0 1h2m0 1h1m0 1h1m0 1h2m0 1h1m0 1h1m0 1h2m0 1h1m0 1h1m0 1h2m0 1h1m0 1h2m0 1h1m0 1h1m0 1h2m0 1h1m0 1h2m0 1h1m0 1h1m0 1h2m0 1h1m0 1h1m0 1h2m0 1h1m0 1h2m0 1h1m0 1h1m0 1h2m0 1h1m0 1h2m0 1h1m0 1h1m0 1h2m0 1h1m0 1h1m0 1h1m0 1h1m0 1h1m0 1h1m0 1h1m0 1h1m0 1h1m-1 1h1m0 1h1m0 1h1m0 1h1m0 1h1m0 1h1m0 1h1m0 1h1m0 1h1m0 1h1m0 1h1m0 1h1m0 1h1m0 1h1m0 1h1m0 1h1m0 1h1m-1 1h1m0 1h1m0 1h1m0 1h1m0 1h1m0 1h1m0 1h1m0 1h1m0 1h1m0 1h1m0 1h1m0 1h1m0 1h1m0 1h1m0 1h1m0 1h1m0 1h1m0 1h1m0 1h1m0 1h1m0 1h1m0 1h1m0 1h1m0 1h1m0 1h1m-1 1h1m0 1h1m0 1h1m0 1h1m0 1h1m0 1h1m0 1h1m0 1h1m0 1h1m0 1h1m0 1h1m0 1h1m0 1h1m0 1h1m0 1h1m0 1h1m0 1h1m0 1h1m0 1h1m0 1h1m0 1h1m0 1h1m0 1h1m0 1h1m0 1h1m0 1h1m0 1h1m0 1h1m0 1h1m0 1h1m0 1h1m0 1h1m0 1h1m-1 1h1m0 1h1m0 1h1m0 1h1m0 1h1m0 1h1m0 1h1m0 1h1m0 1h1m0 1h1m0 1h1m0 1h1m0 1h1m0 1h1m0 1h1m0 1h1m0 1h1m0 1h1m0 1h2m0 1h1m0 1h1m0 1h2m0 1h1m0 1h1m0 1h2m0 1h1m0 1h1m0 1h2m0 1h1m0 1h1m0 1h2m0 1h1m0 1h1m0 1h2m0 1h1m0 1h1m0 1h2m0 1h1m0 1h1m0 1h2m0 1h1m0 1h2m0 1h1m0 1h2m0 1h1m0 1h2m0 1h1m0 1h2m0 1h1m0 1h2m0 1h1m0 1h2m0 1h2m0 1h1m0 1h2m0 1h1m0 1h2m0 1h1m0 1h2m0 1h1m0 1h2m0 1h1m0 1h2m0 1h2m0 1h1m0 1h2m0 1h2m0 1h1m0 1h2m0 1h2m0 1h1m0 1h2m0 1h2m0 1h2m0 1h1m0 1h2m0 1h2m0 1h1m0 1h2m0 1h2m0 1h3m0-1h4m0-1h5m0-1h5m0-1h4m0-1h5m0-1h4m0-1h3m0-1h1m0-1h2m0-1h1m0-1h1m0-1h2m0-1h1m0-1h1m0-1h1m0-1h2m0-1h1m0-1h1m0-1h2m0-1h1m0-1h1m0-1h1m0-1h2m0-1h1m0-1h1m0-1h1m0-1h2m0-1h1m0-1h1m0-1h2m0-1h1m0-1h2m0-1h3m0-1h4m0-1h3m0-1h3m0-1h3m0-1h3m0-1h4m0-1h3m0-1h3m0-1h5m0-1h6m0-1h7m0-1h6m0-1h6m0-1h9m0-1h11m0-1h10m0-1h14m0-1h16m0-1h13m0-1h11m0-1h10m0-1h10m0-1h8m0-1h8m0-1h8m0-1h12m0-1h16m0-1h9m0-1h3m0-1h4m0-1h3m0-1h3m0-1h3m0-1h3m0-1h4m0-1h3m0-1h3m0-1h4m0-1h4m0-1h4m0-1h4m0-1h4m0-1h4m0-1h4m0-1h4m0-1h3m0-1h4m0-1h3m0-1h4m0-1h4m0-1h3m0-1h4m0-1h3m0-1h4m0-1h4m0-1h4m0-1h4m0-1h4m0-1h4m0-1h4m0-1h4m0-1h4m0-1h7m0-1h11m0-1h10m0-1h22m0-1h24m0-1h16m0-1h24m0-1h31m0 1h48" fill="none" stroke="#000" stroke-width="1" transform="translate(0,.5)"/>
<path d="M0 270h1m0-1h4m0-1h4m0-1h3m0-1h4m0-1h3m0-1h4m0-1h7m0 1h10m0 1h11m0 1h7m0 1h3m0 1h3m0 1h4m0 1h3m0 1h3m0 1h3m0 1h3m0 1h4m0 1h3m0 1h3m0 1h4m0 1h3m0 1h4m0 1h3m0 1h4m0 1h4m0 1h3m0 1h4m0 1h3m0 1h4m0 1h3m0 1h4m0 1h3m0 1h4m0 1h4m0 1h3m0 1h4m0 1h3m0 1h2m0 1h2m0 1h2m0 1h2m0 1h2m0 1h2m0 1h2m0 1h3m0 1h2m0 1h2m0 1h2m0 1h2m0 1h2m0 1h2m0 1h3m0 1h2m0 1h2m0 1h2m0 1h3m0 1h2m0 1h2m0 1h3m0 1h2m0 1h2m0 1h2m0 1h3m0 1h2m0 1h2m0 1h3m0 1h2m0 1h2m0 1h2m0 1h2m0 1h2m0 1h2m0 1h2m0 1h3m0 1h2m0 1h2m0 1h2m0 1h2m0 1h2m0 1h2m0 1h2m0 1h2m0 1h2m0 1h2m0 1h1m0 1h2m0 1h2m0 1h2m0 1h2m0 1h1m0 1h2m0 1h2m0 1h2m0 1h1m0 1h2m0 1h2m0 1h2m0 1h2m0 1h2m0 1h2m0 1h2m0 1h2m0 1h2m0 1h2m0 1h2m0 1h2m0 1h3m0 1h2m0 1h2m0 1h2m0 1h2m0 1h2m0 1h2m0 1h2m0 1h2m0 1h2m0 1h2m0 1h2m0 1h2m0 1h2m0 1h2m0 1h2m0 1h2m0 1h2m0 1h2m0 1h2m0 1h2m0 1h2m0 1h2m0 1h2m0 1h2m0 1h2m0 1h1m0 1h2m0 1h2m0 1h1m0 1h2m0 1h2m0 1h1m0 1h2m0 1h2m0 1h2m0 1h1m0 1h2m0 1h2m0 1h1m0 1h2m0 1h2m0 1h1m0 1h2m0 1h2m0 1h1m0 1h2m0 1h2m0 1h1m0 1h2m0 1h2m0 1h1m0 1h2m0 1h2m0 1h2m0 1h1m0 1h2m0 1h2m0 1h1m0 1h2m0 1h2m0 1h1m0 1h2m0 1h1m0 1h2m0 1h2m0 1h1m0 1h2m0 1h1m0 1h2m0 1h2m0 1h1m0 1h2m0 1h1m0 1h2m0 1h2m0 1h1m0 1h2m0 1h1m0 1h2m0 1h2m0 1h1m0 1h2m0 1h2m0 1h2m0 1h2m0 1h2m0 1h2m0 1h2m0 1h2m0 1h2m0 1h2m0 1h2m0 1h2m0 1h2m0 1h2m0 1h2m0 1h2m0 1h2m0 1h2m0 1h2m0 1h2m0 1h2m0 1h2m0 1h2m0 1h2m0 1h2m0 1h2m0 1h2m0 1h2m0 1h2m0 1h2m0 1h2m0 1h3m0 1h3m0 1h3m0 1h3m0 1h3m0 1h2m0 1h3m0 1h3m0 1h3m0 1h3m0 1h3m0 1h3m0 1h3m0 1h3m0 1h4m0 1h3m0 1h3m0 1h3m0 1h3m0 1h4m0 1h3m0 1h3m0 1h3m0 1h3m0 1h4m0 1h3m0 1h3m0 1h3m0 1h3m0 1h4m0 1h3m0 1h3m0 1h2m0 1h3m0 1h3m0 1h2m0 1h3m0 1h3m0 1h2m0 1h3m0 1h3m0 1h2m0 1h3m0 1h3m0 1h2m0 1h3m0 1h3m0 1h2m0 1h3m0 1h3m0 1h2m0 1h3m0 1h3m0 1h2m0 1h3m0 1h3m0 1h4m0 1h3m0 1h4m0 1h3m0 1h4m0 1h4m0 1h3m0 1h4m0 1h4m0 1h4m0 1h5m0 1h4m0 1h5m0 1h5m0 1h4m0 1h5m0 1h5m0 1h6m0 1h5m0 1h5m0 1h6m0 1h6m0 1h8m0 1h8m0 1h8m0 1h21m0-1h18m0-1h6m0-1h5m0-1h5m0-1h6m0-1h5m0-1h6m0-1h6m0-1h7m0-1h6m0-1h6m0-1h8m0-1h8m0-1h8m0-1h8m0-1h9m0-1h11m0-1h10m0-1h11m0-1h11m0-1h10m0-1h11m0-1h11m0-1h10m0-1h11m0-1h11m0-1h10m0-1h10m0-1h8m0-1h8m0-1h8m0-1h7m0 1h8m0 1h8m0 1h8m0 1h10m0 1h10m0 1h11m0 1h11m0 1h10m0 1h11m0 1h8m0 1h4m0 1h5m0 1h4m0 1h5m0 1h5m0 1h4m0 1h5m0 1h4m0 1h5m0 1h4m0 1h5m0 1h5m0 1h4m0 1h5m0 1h4m0 1h5m0 1h4m0 1h5m0 1h5m0 1h4m0 1h5m0 1h5m0 1h6m0 1h5m0 1h5m0 1h6m0 1h6m0 1h8m0 1h8m0 1h8m0 1h6m0 1h3m0 1h3m0 1h4m0 1h3m0 1h3m0 1h3m0 1h3m0 1h4m0 1h3m0 1h4m0 1h4m0 1h5m0 1h4m0 1h5m0 1h5m0 1h4m0 1h2" fill="none" stroke="#000" stroke-width="1" transform="translate(0,.5)"/>
<path d="M0 409h1m0-1h1m-1-1h1m0-1h1m-1-1h1m0-1h1m-1-1h1m0-1h1m-1-1h1m0-1h1m-1-1h1m0-1h1m-1-1h1m0-1h1m-1-1h1m0-1h1m0-1h1m-1-1h1m0-1h1m-1-1h1m0-1h1m-1-1h1m0-1h1m-1-1h1m0-1h1m-1-1h1m0-1h1m-1-1h1m0-1h1m-1-1h1m0-1h1m0-1h1m-1-1h1m0-1h1m-1-1h1m0-1h1m-1-1h1m0-1h1m-1-1h1m0-1h1m-1-1h1m0-1h1m-1-1h1m0-1h1m-1-1h1m0-1h1m0 1h2m0 1h2m0 1h1m0 1h2m0 1h2m0 1h1m0 1h2m0 1h2m0 1h1m0 1h2m0 1h2m0 1h2m0 1h1m0 1h2m0 1h2m0 1h1m0 1h2m0 1h2m0 1h1m0 1h2m0 1h1m0 1h1m0 1h2m0 1h1m0 1h2m0 1h1m0 1h1m0 1h2m0 1h1m0 1h1m0 1h2m0 1h1m0 1h2m0 1h1m0 1h1m0 1h2m0 1h1m0 1h2m0 1h1m0 1h1m0 1h2m0 1h1m0 1h2m0 1h1m0 1h2m0 1h1m0 1h1m0 1h2m0 1h1m0 1h2m0 1h1m0 1h2m0 1h1m0 1h2m0 1h1m0 1h2m0 1h1m0 1h1m0 1h2m0 1h1m0 1h2m0 1h1m0 1h2m0 1h1m0 1h2m0 1h1m0 1h2m0 1h2m0 1h1m0 1h2m0 1h1m0 1h2m0 1h2m0 1h1m0 1h2m0 1h1m0 1h2m0 1h2m0 1h1m0 1h2m0 1h1m0 1h2m0 1h2m0 1h1m0 1h1m-1 1h1m0 1h1m0 1h1m0 1h1m-1 1h1m0 1h1m0 1h1m0 1h1m-1 1h1m0 1h1m0 1h1m0 1h1m-1 1h1m0 1h1m0 1h1m0 1h1m-1 1h1m0 1h1m0 1h1m0 1h1m-1 1h1m0 1h1m0 1h1m0 1h1m-1 1h1m0 1h1m0 1h1m0 1h1m-1 1h1m0 1h1m0 1h1m0 1h1m-1 1h1m0 1h1m0 1h1m0 1h1m-1 1h1m0 1h1m0 1h1m0 1h1m-1 1h1m0 1h1m0 1h1m0 1h1m0 1h1m0 1h1m-1 1h1m0 1h1m0 1h1m0 1h1m0 1h1m0 1h1m0 1h1m0 1h1m0 1h1m-1 1h1m0 1h1m0 1h1m0 1h1m0 1h1m0 1h1m0 1h1m0 1h1m0 1h1m-1 1h1m0 1h1m0 1h1m0 1h1m0 1h1m0 1h1m0 1h1m0 1h1m0 1h1m-1 1h1m0 1h1m0 1h1m0 1h1m0 1h1m0 1h1m-1 1h1m0 1h1m0 1h1m0 1h1m-1 1h1m0 1h1m0 1h1m0 1h1m-1 1h1m0 1h1m0 1h1m0 1h1m-1 1h1m0 1h1m0 1h1m0 1h1m-1 1h1m0 1h1m0 1h1m0 1h1m-1 1h1m0 1h1m0 1h1m0 1h1m-1 1h1m0 1h1m0 1h1m0 1h1m-1 1h1m0 1h1m0 1h1m0 1h1m-1 1h1m0 1h1m0 1h1m0 1h1m-1 1h1m0 1h1m0 1h1m0 1h1m-1 1h1m0 1h1m0 1h1m0 1h1m0 1h1m0 1h1m0 1h1m-1 1h1m0 1h1m0 1h1m0 1h1m0 1h1m0 1h1m0 1h1m0 1h1m0 1h1m0 1h1m0 1h1m0 1h1m-1 1h1m0 1h1m0 1h1m0 1h1m0 1h1m0 1h1m0 1h1m0 1h1m0 1h1m0 1h1m0 1h1m0 1h1m-1 1h1m0 1h1m0 1h1m0 1h1m0 1h1m0 1h1m0 1h1m0 1h2m0 1h1m0 1h1m0 1h2m0 1h1m0 1h1m0 1h1m0 1h2m0 1h1m0 1h1m0 1h1m0 1h2m0 1h1m0 1h1m0 1h2m0 1h1m0 1h1m0 1h1m0 1h2m0 1h1m0 1h1m0 1h2m0 1h1m0 1h2m0 1h2m0 1h3m0 1h2m0 1h3m0 1h2m0 1h2m0 1h3m0 1h2m0 1h3m0 1h2m0 1h3m0 1h2m0 1h3m0 1h2m0 1h2m0 1h2m0 1h2m0 1h2m0 1h2m0 1h2m0 1h3m0 1h2m0 1h2m0 1h2m0 1h2m0 1h2m0 1h2m0 1h3m0 1h4m0 1h4m0 1h4m0 1h4m0 1h4m0 1h4m0 1h4m0 1h4m0 1h2m0 1h2m0 1h2m0 1h3m0 1h2m0 1h2m0 1h3m0 1h2m0 1h2m0 1h2m0 1h3m0 1h2m0 1h2m0 1h2m0 1h2m0 1h1m0 1h2m0 1h1m0 1h2m0 1h1m0 1h2m0 1h1m0 1h2m0 1h1m0 1h2m0 1h2m0 1h1m0 1h2m0 1h1m0 1h2m0 1h1m0 1h2m0 1h1m0 1h2m0 1h2m0 1h3m0 1h3m0 1h3m0 1h3m0 1h2m0 1h3m0 1h3m0 1h3m0 1h3m0 1h3m0 1h5m0 1h8m0 1h8m0 1h8m0 1h13m0-1h16m0-1h10m0-1h6m0-1h5m0-1h5m0-1h6m0-1h5m0-1h4m0-1h4m0-1h3m0-1h4m0-1h4m0-1h3m0-1h4m0-1h3m0-1h4m0-1h3m0-1h4m0-1h3m0-1h4m0-1h4m0-1h3m0-1h4m0-1h3m0-1h4m0-1h3m0-1h2m0-1h2m0-1h2m0-1h2m0-1h2m0-1h2m0-1h3m0-1h2m0-1h2m0-1h2m0-1h2m0-1h2m0-1h2m0-1h2m0-1h3m0-1h3m0-1h4m0-1h3m0-1h3m0-1h3m0-1h3m0-1h4m0-1h3m0-1h3m0-1h4m0-1h4m0-1h5m0-1h5m0-1h4m0-1h5m0-1h4m0-1h4m0-1h3m0-1h2m0-1h3m0-1h3m0-1h2m0-1h3m0-1h3m0-1h2m0-1h3m0-1h3m0-1h2m0-1h5m0 1h6m0 1h6m0 1h7m0 1h6m0 1h5m0 1h2m0 1h3m0 1h2m0 1h3m0 1h2m0 1h2m0 1h3m0 1h2m0 1h3m0 1h2m0 1h3m0 1h2m0 1h17m0 1h25m0-1h16m0-1h10m0-1h6m0-1h5m0-1h5m0-1h6m0-1h5m0-1h11m0-1h16m0-1h16m0-1h16m0-1h12m0-1h8m0-1h8m0-1h8m0-1h7m0-1h6m0-1h7m0-1h6m0-1h6m0-1h4m0 1h2m0 1h2m0 1h2m0 1h2m0 1h2m0 1h2m0 1h2m0 1h1m0 1h2m0 1h2m0 1h2m0 1h2m0 1h2m0 1h2m0 1h2m0 1h2m0 1h2m0 1h2m0 1h2m0 1h2m0 1h3m0 1h2m0 1h2m0 1h3m0 1h2m0 1h2m0 1h2m0 1h3m0 1h2m0 1h2m0 1h2m0 1h2m0 1h2m0 1h2m0 1h2m0 1h2m0 1h2m0 1h2m0 1h2m0 1h2m0 1h2m0 1h2m0 1h2m0 1h2m0 1h2m0 1h2m0 1h2m0 1h2m0 1h1m0 1h2m0 1h2m0 1h1m0 1h2m0 1h1m0 1h2m0 1h2m0 1h1m0 1h2m0 1h1m0 1h2m0 1h2m0 1h1m0 1h2m0 1h1m0 1h2m0 1h2m0 1h1m0 1h2m0 1h2m0 1h2m0 1h1m0 1h2m0 1h2m0 1h2m0 1h2m0 1h1m0 1h2m0 1h2m0 1h2m0 1h1m0 1h2m0 1h2m0 1h2m0 1h2m0 1h2m0 1h2m0 1h2m0 1h2m0 1h2m0 1h2m0 1h2m0 1h2m0 1h3m0 1h2m0 1h2m0 1h2m0 1h2m0 1h2m0 1h2m0 1h3m0 1h2m0 1h3m0 1h2m0 1h3m0 1h2m0 1h2m0 1h3m0 1h2m0 1h3m0 1h2m0 1h3m0 1h2m0 1h3m0 1h2m0 1h3m0 1h2m0 1h3m0 1h2m0 1h2m0 1h3m0 1h2m0 1h3m0 1h2m0 1h3m0 1h2m0 1h3m0 1h2m0 1h2m0 1h2m0 1h2m0 1h2m0 1h2m0 1h2m0 1h3m0 1h2m0 1h2m0 1h2m0 1h2m0 1h2m0 1h2m0 1h3m0 1h2m0 1h2m0 1h2m0 1h2m0 1h2m0 1h2m0 1h2m0 1h3m0 1h2m0 1h2m0 1h2m0 1h2m0 1h2m0 1h2m0 1h1" fill="none" stroke="#000" stroke-width="1" transform="translate(0,.5)"/>
<path d="M0 82h3m0 1h3m0 1h2m0 1h3m0 1h3m0 1h3m0 1h3m0 1h3m0 1h3m0 1h2m0 1h2m0 1h2m0 1h3m0 1h2m0 1h2m0 1h3m0 1h2m0 1h2m0 1h2m0 1h3m0 1h2m0 1h2m0 1h3m0 1h4m0 1h4m0 1h4m0 1h4m0 1h4m0 1h4m0 1h4m0 1h8m0 1h10m0 1h11m0 1h7m0 1h4m0 1h3m0 1h4m0 1h3m0 1h4m0 1h4m0 1h3m0 1h4m0 1h18m0-1h17m0-1h2m0-1h2m0-1h3m0-1h2m0-1h2m0-1h2m0-1h3m0-1h2m0-1h2m0-1h3m0-1h2m0-1h2m0-1h2m0-1h3m0-1h3m0-1h3m0-1h3m0-1h3m0-1h3m0-1h2m0-1h3m0-1h3m0-1h3m0-1h3m0-1h4m0-1h4m0-1h5m0-1h5m0-1h4m0-1h5m0-1h4m0-1h18m0 1h19m0 1h4m0 1h5m0 1h4m0 1h5m0 1h5m0 1h4m0 1h18m0 1h20m0 1h6m0 1h6m0 1h7m0 1h6m0 1h5m0 1h4m0 1h3m0 1h4m0 1h3m0 1h4m0 1h4m0 1h3m0 1h4m0 1h3m0 1h4m0 1h3m0 1h4m0 1h3m0 1h4m0 1h4m0 1h3m0 1h4m0 1h2m0 1h2m0 1h2m0 1h2m0 1h1m0 1h2m0 1h2m0 1h2m0 1h2m0 1h1m0 1h2m0 1h2m0 1h2m0 1h1m0 1h2m0 1h2m0 1h2m0 1h2m0 1h1m0 1h1m0 1h1m0 1h2m0 1h1m0 1h1m0 1h1m0 1h1m0 1h2m0 1h1m0 1h1m0 1h1m0 1h1m0 1h1m0 1h2m0 1h1m0 1h1m0 1h1m0 1h1m0 1h2m0 1h1m0 1h1m0 1h1m0 1h1m0 1h2m0 1h1m0 1h1m0 1h1m0 1h1m0 1h1m0 1h1m0 1h1m0 1h1m0 1h1m0 1h1m0 1h1m0 1h1m0 1h1m0 1h1m0 1h1m0 1h1m0 1h1m0 1h1m0 1h1m-1 1h1m0 1h1m0 1h1m0 1h1m0 1h1m0 1h1m0 1h1m0 1h1m0 1h1m0 1h1m0 1h1m0 1h1m0 1h1m0 1h1m0 1h1m0 1h1m0 1h1m0 1h1m0 1h1m0 1h1m0 1h1m0 1h1m0 1h1m0 1h1m0 1h1m0 1h1m0 1h1m0 1h1m0 1h1m0 1h1m0 1h1m0 1h1m0 1h2m0 1h1m0 1h1m0 1h1m0 1h1m0 1h1m0 1h1m0 1h1m0 1h1m0 1h1m0 1h1m0 1h1m0 1h1m0 1h1m0 1h1m0 1h2m0 1h2m0 1h2m0 1h2m0 1h2m0 1h2m0 1h2m0 1h2m0 1h3m0 1h2m0 1h2m0 1h2m0 1h2m0 1h2m0 1h2m0 1h2m0 1h1m0 1h2m0 1h1m0 1h1m0 1h2m0 1h1m0 1h1m0 1h2m0 1h1m0 1h1m0 1h2m0 1h1m0 1h1m0 1h2m0 1h1m0 1h1m0 1h2m0 1h1m0 1h1m0 1h2m0 1h1m0 1h1m0 1h2m0 1h1m0 1h2m0 1h2m0 1h2m0 1h2m0 1h2m0 1h2m0 1h2m0 1h2m0 1h2m0 1h2m0 1h2m0 1h2m0 1h2m0 1h2m0 1h2m0 1h2m0 1h2m0 1h1m0 1h1m0 1h2m0 1h1m0 1h2m0 1h1m0 1h1m0 1h2m0 1h1m0 1h1m0 1h2m0 1h1m0 1h2m0 1h1m0 1h1m0 1h2m0 1h1m0 1h2m0 1h1m0 1h1m0 1h2m0 1h1m0 1h2m0 1h1m0 1h1m0 1h2m0 1h1m0 1h2m0 1h1m0 1h1m0 1h2m0 1h1m0 1h1m0 1h2m0 1h1m0 1h2m0 1h1m0 1h1m0 1h2m0 1h1m0 1h2m0 1h1m0 1h1m0 1h2m0 1h1m0 1h1m0 1h1m0 1h2m0 1h1m0 1h1m0 1h1m0 1h1m0 1h2m0 1h1m0 1h1m0 1h1m0 1h1m0 1h1m0 1h2m0 1h1m0 1h1m0 1h1m0 1h1m0 1h2m0 1h1m0 1h1m0 1h1m0 1h1m0 1h2m0 1h1m0 1h1m0 1h1m0 1h2m0 1h2m0 1h2m0 1h2m0 1h2m0 1h2m0 1h2m0 1h1m0 1h2m0 1h2m0 1h2m0 1h2m0 1h2m0 1h2m0 1h2m0 1h2m0 1h2m0 1h2m0 1h3m0 1h2m0 1h3m0 1h2m0 1h2m0 1h3m0 1h2m0 1h3m0 1h2m0 1h3m0 1h2m0 1h3m0 1h3m0 1h3m0 1h4m0 1h3m0 1h3m0 1h3m0 1h3m0 1h4m0 1h3m0 1h3m0 1h3m0 1h3m0 1h4m0 1h3m0 1h3m0 1h3m0 1h3m0 1h4m0 1h3m0 1h3m0 1h3m0 1h3m0 1h3m0 1h3m0 1h2m0 1h3m0 1h3m0 1h3m0 1h3m0 1h3m0 1h3m0 1h3m0 1h3m0 1h4m0 1h3m0 1h3m0 1h3m0 1h3m0 1h4m0 1h3m0 1h7m0-1h11m0-1h10m0-1h11m0-1h11m0-1h10m0-1h14m0-1h16m0-1h9m0-1h3m0-1h4m0-1h3m0-1h3m0-1h3m0-1h3m0-1h4m0-1h3m0-1h3m0-1h4m0-1h4m0-1h4m0-1h4m0-1h4m0-1h4m0-1h4m0-1h4m0-1h4m0-1h6m0-1h5m0-1h5m0-1h6m0-1h5m0-1h5m0-1h6m0-1h5m0-1h5m0-1h6m0-1h5m0-1h6m0-1h6m0-1h7m0-1h6m0-1h6m0-1h20m0-1h24m0-1h16m0-1h13m0-1h11m0-1h10m0-1h22m0-1h47" fill="none" stroke="#191970" stroke-width="1" transform="translate(0,.5)"/>
<path d="M0 318h3m0-1h4m0-1h4m0-1h4m0-1h4m0-1h4m0-1h4m0-1h4m0-1h5m0-1h5m0-1h4m0-1h5m0-1h4m0-1h8m0-1h11m0-1h10m0-1h14m0-1h16m0-1h16m0-1h16m0-1h24m0-1h17m0 1h4m0 1h3m0 1h4m0 1h3m0 1h4m0 1h4m0 1h3m0 1h4m0 1h3m0 1h2m0 1h2m0 1h2m0 1h3m0 1h2m0 1h2m0 1h3m0 1h2m0 1h2m0 1h2m0 1h3m0 1h2m0 1h2m0 1h3m0 1h2m0 1h2m0 1h2m0 1h3m0 1h2m0 1h2m0 1h3m0 1h2m0 1h2m0 1h2m0 1h3m0 1h2m0 1h2m0 1h3m0 1h3m0 1h3m0 1h3m0 1h3m0 1h2m0 1h3m0 1h3m0 1h3m0 1h3m0 1h3m0 1h3m0 1h2m0 1h3m0 1h3m0 1h2m0 1h3m0 1h3m0 1h2m0 1h3m0 1h3m0 1h2m0 1h3m0 1h3m0 1h2m0 1h3m0 1h2m0 1h3m0 1h2m0 1h2m0 1h3m0 1h2m0 1h3m0 1h2m0 1h3m0 1h2m0 1h3m0 1h2m0 1h3m0 1h2m0 1h3m0 1h2m0 1h2m0 1h3m0 1h2m0 1h3m0 1h2m0 1h3m0 1h2m0 1h3m0 1h2m0 1h2m0 1h2m0 1h2m0 1h2m0 1h2m0 1h2m0 1h3m0 1h2m0 1h2m0 1h2m0 1h2m0 1h2m0 1h2m0 1h3m0 1h2m0 1h2m0 1h2m0 1h2m0 1h2m0 1h2m0 1h2m0 1h3m0 1h2m0 1h2m0 1h2m0 1h2m0 1h2m0 1h2m0 1h2m0 1h2m0 1h2m0 1h2m0 1h2m0 1h2m0 1h2m0 1h2m0 1h1m0 1h2m0 1h2m0 1h2m0 1h2m0 1h2m0 1h2m0 1h2m0 1h2m0 1h2m0 1h2m0 1h2m0 1h2m0 1h2m0 1h2m0 1h2m0 1h2m0 1h3m0 1h2m0 1h2m0 1h2m0 1h2m0 1h2m0 1h2m0 1h3m0 1h2m0 1h3m0 1h2m0 1h3m0 1h2m0 1h2m0 1h3m0 1h2m0 1h3m0 1h2m0 1h3m0 1h2m0 1h3m0 1h2m0 1h3m0 1h3m0 1h2m0 1h3m0 1h3m0 1h2m0 1h3m0 1h3m0 1h2m0 1h3m0 1h3m0 1h3m0 1h3m0 1h4m0 1h3m0 1h3m0 1h3m0 1h3m0 1h4m0 1h3m0 1h3m0 1h3m0 1h3m0 1h3m0 1h3m0 1h2m0 1h3m0 1h3m0 1h3m0 1h3m0 1h3m0 1h3m0 1h4m0 1h4m0 1h4m0 1h4m0 1h4m0 1h4m0 1h4m0 1h4m0 1h3m0 1h3m0 1h4m0 1h3m0 1h3m0 1h3m0 1h3m0 1h4m0 1h3m0 1h3m0 1h4m0 1h3m0 1h4m0 1h3m0 1h4m0 1h4m0 1h3m0 1h4m0 1h4m0 1h5m0 1h6m0 1h5m0 1h5m0 1h6m0 1h8m0 1h10m0 1h11m0 1h11m0 1h10m0 1h11m0 1h13m0 1h16m0 1h14m0 1h10m0 1h11m0 1h9m0 1h8m0 1h8m0 1h8m0 1h10m0 1h10m0 1h11m0 1h14m0-1h16m0-1h16m0-1h16m0-1h13m0-1h11m0-1h10m0-1h9m0 1h8m0 1h8m0 1h8m0 1h8m0 1h6m0 1h6m0 1h7m0 1h6m0 1h7m0 1h6m0 1h6m0 1h7m0 1h6m0 1h7m0 1h6m0 1h6m0 1h7m0 1h6m0 1h7m0 1h6m0 1h6m0 1h7m0 1h6m0 1h11m0 1h16m0 1h16m0 1h16m0 1h16m0 1h16m0 1h12m0 1h6m0 1h6m0 1h7m0 1h6m0 1h6m0 1h4m0 1h5m0 1h4m0 1h5m0 1h5m0 1h4m0 1h2" fill="none" stroke="#191970" stroke-width="1" transform="translate(0,.5)"/>
<path d="M0 553h1m0-1h1m0-1h1m0-1h2m0-1h1m0-1h1m0-1h2m0-1h1m0-1h1m0-1h1m0-1h2m0-1h1m0-1h1m0-1h1m0-1h2m0-1h1m0-1h1m0-1h2m0-1h1m0-1h1m0-1h1m0-1h2m0-1h1m0-1h1m0-1h1m0-1h2m0-1h1m0-1h1m0-1h1m0-1h1m0-1h2m0-1h1m0-1h1m0-1h1m0-1h2m0-1h1m0-1h1m0-1h1m0-1h2m0-1h1m0-1h1m0-1h1m0-1h1m0-1h2m0-1h1m0-1h2m0-1h2m0-1h2m0-1h2m0-1h2m0-1h2m0-1h2m0-1h2m0-1h2m0-1h2m0-1h2m0-1h2m0-1h2m0-1h2m0-1h2m0-1h2m0-1h3m0-1h4m0-1h5m0-1h5m0-1h4m0-1h5m0-1h4m0-1h4m0-1h2m0-1h2m0-1h2m0-1h2m0-1h2m0-1h2m0-1h3m0-1h2m0-1h2m0-1h2m0-1h2m0-1h2m0-1h2m0-1h2m0-1h9m0 1h16m0 1h9m0 1h1m0 1h1m0 1h1m0 1h1m0 1h1m0 1h1m0 1h1m0 1h1m0 1h1m0 1h1m0 1h1m0 1h1m0 1h1m0 1h1m0 1h1m0 1h1m0 1h1m0 1h1m0 1h1m0 1h1m0 1h1m0 1h1m0 1h1m0 1h1m0 1h1m0 1h1m0 1h1m0 1h1m0 1h1m0 1h1m0 1h1m0 1h1m0 1h1m0 1h1m0 1h1m-1 1h1m0 1h1m0 1h1m0 1h1m0 1h1m0 1h1m0 1h1m0 1h1m-1 1h1m0 1h1m0 1h1m0 1h1m0 1h1m0 1h1m0 1h1m-1 1h1m0 1h1m0 1h1m0 1h1m0 1h1m0 1h1m0 1h1m-1 1h1m0 1h1m0 1h1m0 1h1m0 1h1m0 1h1m0 1h1m0 1h1m-1 1h1m0 1h1m0 1h1m0 1h1m0 1h1m0 1h1m0 1h1m0 1h1m0 1h1m-1 1h1m0 1h1m0 1h1m0 1h1m0 1h1m0 1h1m0 1h1m0 1h1m0 1h1m0 1h1m0 1h1m0 1h1m-1 1h1m0 1h1m0 1h1m0 1h1m0 1h1m0 1h1m0 1h1m0 1h1m0 1h1m0 1h1m0 1h1m0 1h1m-1 1h1m0 1h1m0 1h1m0 1h1m0 1h1m0 1h1m0 1h1m0 1h2m0 1h1m0 1h1m0 1h1m0 1h1m0 1h2m0 1h1m0 1h1m0 1h1m0 1h2m0 1h1m0 1h1m0 1h1m0 1h2m0 1h1m0 1h1m0 1h1m0 1h1m0 1h2m0 1h1m0 1h1m0 1h1m0 1h2m0 1h1m0 1h1m0 1h2m0 1h2m0 1h2m0 1h2m0 1h2m0 1h2m0 1h2m0 1h2m0 1h2m0 1h2m0 1h2m0 1h2m0 1h2m0 1h2m0 1h2m0 1h2m0 1h1m0 1h2m0 1h1m0 1h1m0 1h2m0 1h1m0 1h1m0 1h2m0 1h1m0 1h1m0 1h2m0 1h1m0 1h1m0 1h2m0 1h1m0 1h1m0 1h2m0 1h1m0 1h1m0 1h2m0 1h1m0 1h1m0 1h2m0 1h1m0 1h2m0 1h1m0 1h2m0 1h2m0 1h1m0 1h2m0 1h1m0 1h2m0 1h2m0 1h1m0 1h2m0 1h1m0 1h2m0 1h2m0 1h1m0 1h2m0 1h1m0 1h2m0 1h2m0 1h1m0 1h2m0 1h1m0 1h2m0 1h1m0 1h2m0 1h1m0 1h2m0 1h1m0 1h2m0 1h1m0 1h2m0 1h2m0 1h1m0 1h2m0 1h1m0 1h2m0 1h1m0 1h2m0 1h1m0 1h2m0 1h1m0 1h2m0 1h1m0 1h2m0 1h1m0 1h1m0 1h2m0 1h1m0 1h2m0 1h1m0 1h2m0 1h1m0 1h2m0 1h1m0 1h2m0 1h1m0 1h1m0 1h2m0 1h1m0 1h2m0 1h1m0 1h2m0 1h2m0 1h2m0 1h2m0 1h2m0 1h3m0 1h2m0 1h2m0 1h3m0 1h2m0 1h2m0 1h2m0 1h3m0 1h2m0 1h2m0 1h17m0 1h20m0-1h6m0-1h7m0-1h6m0-1h6m0-1h6m0-1h4m0-1h5m0-1h5m0-1h4m0-1h5m0-1h4m0-1h6m0 1h8m0 1h8m0 1h8m0 1h21m0-1h24m0-1h16m0-1h13m0-1h11m0-1h10m0-1h9m0-1h6m0-1h7m0-1h6m0-1h6m0-1h5m0-1h2m0-1h3m0-1h2m0-1h3m0-1h2m0-1h3m0-1h2m0-1h2m0-1h3m0-1h2m0-1h3m0-1h2m0-1h3m0-1h3m0-1h3m0-1h3m0-1h3m0-1h3m0-1h2m0-1h3m0-1h3m0-1h3m0-1h3m0-1h4m0-1h4m0-1h5m0-1h5m0-1h4m0-1h5m0-1h4m0-1h6m0-1h6m0-1h7m0-1h6m0-1h6m0-1h8m0-1h8m0-1h8m0-1h8m0-1h7m0-1h6m0-1h7m0-1h6m0-1h6m0-1h8m0-1h8m0-1h8m0-1h8m0-1h52m0-1h21m0-1h11m0-1h10m0-1h6m0 1h2m0 1h2m0 1h2m0 1h2m0 1h2m0 1h2m0 1h2m0 1h2m0 1h2m0 1h2m0 1h2m0 1h2m0 1h2m0 1h2m0 1h2m0 1h2m0 1h2m0 1h2m0 1h1m0 1h2m0 1h2m0 1h1m0 1h2m0 1h2m0 1h1m0 1h2m0 1h2m0 1h2m0 1h1m0 1h2m0 1h2m0 1h1m0 1h2m0 1h2m0 1h1m0 1h2m0 1h2m0 1h2m0 1h1m0 1h2m0 1h2m0 1h2m0 1h2m0 1h1m0 1h2m0 1h2m0 1h2m0 1h1m0 1h2m0 1h2m0 1h2m0 1h2m0 1h2m0 1h2m0 1h2m0 1h2m0 1h3m0 1h2m0 1h2m0 1h3m0 1h2m0 1h2m0 1h2m0 1h3m0 1h2m0 1h2m0 1h3m0 1h2m0 1h3m0 1h2m0 1h3m0 1h2m0 1h2m0 1h3m0 1h2m0 1h3m0 1h2m0 1h3m0 1h2m0 1h4m0 1h4m0 1h5m0 1h4m0 1h5m0 1h5m0 1h4m0 1h6m0 1h6m0 1h6m0 1h7m0 1h6m0 1h6m0 1h4m0 1h5m0 1h4m0 1h5m0 1h5m0 1h4m0 1h4m0 1h2m0 1h3m0 1h2m0 1h3m0 1h2m0 1h2m0 1h3m0 1h2m0 1h3m0 1h2m0 1h3m0 1h2m0 1h3m0 1h2m0 1h2m0 1h2m0 1h3m0 1h2m0 1h2m0 1h3m0 1h2m0 1h2m0 1h2m0 1h3m0 1h2m0 1h2m0 1h1" fill="none" stroke="#191970" stroke-width="1" transform="translate(0,.5)"/>
<rect x="0" y="134" width="1493" height="1" fill="#191970"/>
<rect x="0" y="400" width="1493" height="1" fill="#191970"/>
<rect x="0" y="483" width="1493" height="1" fill="#191970"/>
<rect x="0" y="565" width="1493" height="1" fill="#191970"/>
<rect x="0" y="667" width="1493" height="1" fill="#191970"/>
</g>
<rect x="0" y="39" width="1494" height="1" fill="#000"/>
<rect x="1493" y="39" width="1" height="791" fill="#000"/>
<rect x="0" y="829" width="1494" height="1" fill="#000"/>
<g font-family="'Liberation Sans', sans-serif" font-size="12.5" text-rendering="geometricPrecision" shape-rendering="auto" stroke-width="0.3">
<rect x="1494" y="75" width="2" height="1" fill="#000" shape-rendering="crispEdges"/>
<text x="1500.5" y="80" fill="#000" stroke="#000">1366.20</text>
<rect x="1494" y="124" width="2" height="1" fill="#000" shape-rendering="crispEdges"/>
<text x="1500.5" y="129" fill="#000" stroke="#000">1362.35</text>
<rect x="1494" y="173" width="2" height="1" fill="#000" shape-rendering="crispEdges"/>
<text x="1500.5" y="178" fill="#000" stroke="#000">1358.50</text>
<rect x="1494" y="222" width="2" height="1" fill="#000" shape-rendering="crispEdges"/>
<text x="1500.5" y="227" fill="#000" stroke="#000">1354.65</text>
<rect x="1494" y="271" width="2" height="1" fill="#000" shape-rendering="crispEdges"/>
<text x="1500.5" y="276" fill="#000" stroke="#000">1350.80</text>
<rect x="1494" y="320" width="2" height="1" fill="#000" shape-rendering="crispEdges"/>
<text x="1500.5" y="325" fill="#000" stroke="#000">1346.95</text>
<rect x="1494" y="369" width="2" height="1" fill="#000" shape-rendering="crispEdges"/>
<text x="1500.5" y="374" fill="#000" stroke="#000">1343.10</text>
<rect x="1494" y="418" width="2" height="1" fill="#000" shape-rendering="crispEdges"/>
<text x="1500.5" y="423" fill="#000" stroke="#000">1339.30</text>
<rect x="1494" y="467" width="2" height="1" fill="#000" shape-rendering="crispEdges"/>
<text x="1500.5" y="472" fill="#000" stroke="#000">1335.45</text>
<rect x="1494" y="516" width="2" height="1" fill="#000" shape-rendering="crispEdges"/>
<text x="1500.5" y="521" fill="#000" stroke="#000">1331.60</text>
<rect x="1494" y="565" width="2" height="1" fill="#000" shape-rendering="crispEdges"/>
<text x="1500.5" y="570" fill="#000" stroke="#000">1327.75</text>
<rect x="1494" y="614" width="2" height="1" fill="#000" shape-rendering="crispEdges"/>
<text x="1500.5" y="619" fill="#000" stroke="#000">1323.90</text>
<rect x="1494" y="663" width="2" height="1" fill="#000" shape-rendering="crispEdges"/>
<text x="1500.5" y="668" fill="#000" stroke="#000">1320.05</text>
<rect x="1494" y="761" width="2" height="1" fill="#000" shape-rendering="crispEdges"/>
<text x="1500.5" y="766" fill="#000" stroke="#000">1312.40</text>
<rect x="1494" y="810" width="2" height="1" fill="#000" shape-rendering="crispEdges"/>
<text x="1500.5" y="815" fill="#000" stroke="#000">1308.55</text>
<rect x="1495" y="708" width="56" height="14" fill="#000" shape-rendering="crispEdges"/>
<rect x="1494" y="715" width="2" height="1" fill="#000" shape-rendering="crispEdges"/>
<text x="1500.5" y="720" fill="#fff" stroke="#fff">1316.00</text>
<text x="1492" y="132" fill="#191970" stroke="#191970" text-anchor="end">100.0</text>
<text x="1492" y="398" fill="#191970" stroke="#191970" text-anchor="end">61.8</text>
<text x="1492" y="481" fill="#191970" stroke="#191970" text-anchor="end">50.0</text>
<text x="1492" y="563" fill="#191970" stroke="#191970" text-anchor="end">38.2</text>
<text x="1492" y="665" fill="#191970" stroke="#191970" text-anchor="end">23.6</text>
<text x="1492" y="828" fill="#191970" stroke="#191970" text-anchor="end">0.0</text>
<rect x="24" y="830" width="1" height="3" fill="#000" shape-rendering="crispEdges"/>
<text x="23" y="845" fill="#000" stroke="#000">20 Feb 04:00</text>
<rect x="120" y="830" width="1" height="3" fill="#000" shape-rendering="crispEdges"/>
<text x="119" y="845" fill="#000" stroke="#000">20 Feb 16:00</text>
<rect x="216" y="830" width="1" height="3" fill="#000" shape-rendering="crispEdges"/>
<text x="215" y="845" fill="#000" stroke="#000">21 Feb 04:00</text>
<rect x="312" y="830" width="1" height="3" fill="#000" shape-rendering="crispEdges"/>
<text x="311" y="845" fill="#000" stroke="#000">21 Feb 16:00</text>
<rect x="408" y="830" width="1" height="3" fill="#000" shape-rendering="crispEdges"/>
<text x="407" y="845" fill="#000" stroke="#000">22 Feb 04:00</text>
<rect x="504" y="830" width="1" height="3" fill="#000" shape-rendering="crispEdges"/>
<text x="503" y="845" fill="#000" stroke="#000">22 Feb 16:00</text>
<rect x="600" y="830" width="1" height="3" fill="#000" shape-rendering="crispEdges"/>
<text x="599" y="845" fill="#000" stroke="#000">23 Feb 04:00</text>
<rect x="696" y="830" width="1" height="3" fill="#000" shape-rendering="crispEdges"/>
<text x="695" y="845" fill="#000" stroke="#000">23 Feb 16:00</text>
<rect x="792" y="830" width="1" height="3" fill="#000" shape-rendering="crispEdges"/>
<text x="791" y="845" fill="#000" stroke="#000">26 Feb 06:00</text>
<rect x="888" y="830" width="1" height="3" fill="#000" shape-rendering="crispEdges"/>
<text x="887" y="845" fill="#000" stroke="#000">26 Feb 18:00</text>
<rect x="984" y="830" width="1" height="3" fill="#000" shape-rendering="crispEdges"/>
<text x="983" y="845" fill="#000" stroke="#000">27 Feb 04:00</text>
<rect x="1080" y="830" width="1" height="3" fill="#000" shape-rendering="crispEdges"/>
<text x="1079" y="845" fill="#000" stroke="#000">27 Feb 16:00</text>
<rect x="1176" y="830" width="1" height="3" fill="#000" shape-rendering="crispEdges"/>
<text x="1175" y="845" fill="#000" stroke="#000">28 Feb 04:00</text>
<rect x="1272" y="830" width="1" height="3" fill="#000" shape-rendering="crispEdges"/>
<text x="1271" y="845" fill="#000" stroke="#000">28 Feb 16:00</text>
<rect x="1368" y="830" width="1" height="3" fill="#000" shape-rendering="crispEdges"/>
<text x="1367" y="845" fill="#000" stroke="#000">1 Mar 04:00</text>
</g>
<rect x="0" y="838" width="1" height="5" fill="#c4f2ff" shape-rendering="crispEdges"/>
</svg>
</body></html>
